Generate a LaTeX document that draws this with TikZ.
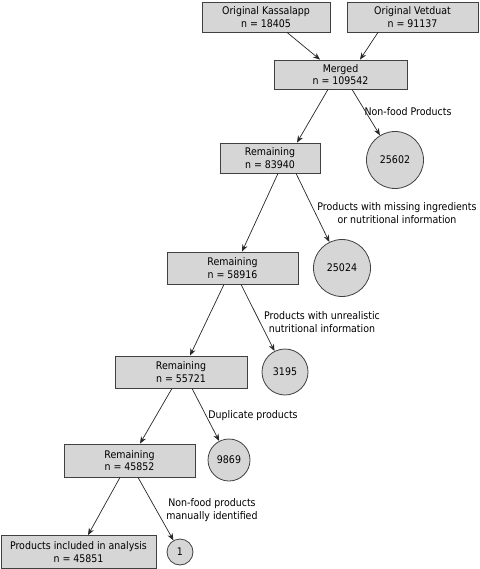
\documentclass[tikz,border=0pt]{standalone}
\usepackage{fontspec}
\setmainfont{DejaVu Sans Condensed}
\usetikzlibrary{arrows.meta}
\begin{document}
\begin{tikzpicture}[x=1bp,y=-1bp,
  every node/.style={font=\fontsize{10.5bp}{12.5bp}\selectfont, align=center, inner sep=0pt},
  box/.style={draw=black!75, fill=black!16, line width=0.8bp, minimum height=30bp},
  circ/.style={draw=black!75, fill=black!16, line width=0.8bp, circle},
  lbl/.style={},
  arr/.style={draw=black!85, line width=0.7bp, -{Stealth[length=7bp,width=5.5bp]}}
]
\useasboundingbox (0,0) rectangle (480,569);
\node[box, minimum width=128bp] (k) at (266,17) {Original Kassalapp\\n = 18405};
\node[box, minimum width=131bp] (v) at (412.5,17) {Original Vetduat\\n = 91137};
\node[box, minimum width=133bp, minimum height=29bp] (m) at (340.5,74.5) {Merged\\n = 109542};
\node[box, minimum width=100bp] (r1) at (270,158) {Remaining\\n = 83940};
\node[circ, minimum size=57bp] (c1) at (395,160) {25602};
\node[box, minimum width=131bp, minimum height=32bp] (r2) at (232.5,268) {Remaining\\n = 58916};
\node[circ, minimum size=57bp] (c2) at (342,268) {25024};
\node[box, minimum width=132bp, minimum height=32bp] (r3) at (181,372) {Remaining\\n = 55721};
\node[circ, minimum size=46bp] (c3) at (285,372) {3195};
\node[box, minimum width=131bp, minimum height=33bp] (r4) at (129.5,460.5) {Remaining\\n = 45852};
\node[circ, minimum size=42bp] (c4) at (229,460) {9869};
\node[box, minimum width=155bp, minimum height=33bp] (f) at (78.5,552) {Products included in analysis\\n = 45851};
\node[circ, minimum size=26bp] (c5) at (180,552) {1};

\node[lbl] (l1) at (408,112) {Non-food Products};
\node[lbl] (l2) at (397,213) {Products with missing ingredients\\or nutritional information};
\node[lbl] (l3) at (322,322) {Products with unrealistic\\nutritional information};
\node[lbl] (l4) at (253,416) {Duplicate products};
\node[lbl] (l5) at (212,510) {Non-food products\\manually identified};

\draw[arr] ([xshift=21bp]k.south) -- ([xshift=-20.5bp]m.north);
\draw[arr] ([xshift=-34.5bp]v.south) -- ([xshift=19.5bp]m.north);
\draw[arr] ([xshift=-12.5bp]m.south) -- ([xshift=27bp]r1.north);
\draw[arr] ([xshift=11.5bp]m.south) -- (c1);
\draw[arr] ([xshift=8bp]r1.south) -- ([xshift=9.5bp]r2.north);
\draw[arr] ([xshift=26bp]r1.south) -- (c2);
\draw[arr] ([xshift=-8.5bp]r2.south) -- ([xshift=9bp]r3.north);
\draw[arr] ([xshift=8.5bp]r2.south) -- (c3);
\draw[arr] ([xshift=-9bp]r3.south) -- ([xshift=10.5bp]r4.north);
\draw[arr] ([xshift=11bp]r3.south) -- (c4);
\draw[arr] ([xshift=-9.5bp]r4.south) -- ([xshift=9.5bp]f.north);
\draw[arr] ([xshift=8.5bp]r4.south) -- (c5);
\end{tikzpicture}
\end{document}
